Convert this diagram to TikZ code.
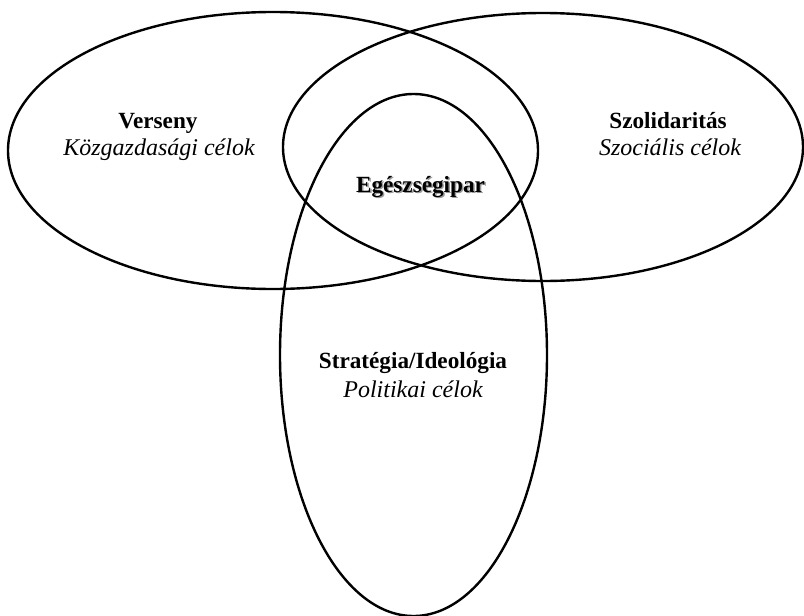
\documentclass[tikz,border=0pt]{standalone}
\usepackage{fontspec}
\setmainfont{Liberation Serif}
\begin{document}
\begin{tikzpicture}[x=1pt,y=-1pt,
  ring/.style={draw=black,line width=2.4pt},
  headtext/.style={font=\fontsize{23.2}{28}\selectfont\bfseries,inner sep=0pt,anchor=base},
  subtext/.style={font=\fontsize{24}{28}\selectfont\itshape,inner sep=0pt,anchor=base}]
\useasboundingbox (0,0) rectangle (804,616);
\coordinate (cl) at (273,150.5);
\coordinate (cr) at (543,147);
\coordinate (cb) at (413.5,355);
\draw[ring] (cl) ellipse [x radius=265, y radius=138.5];
\draw[ring] (cr) ellipse [x radius=260, y radius=134];
\draw[ring] (cb) ellipse [x radius=133.5, y radius=261];
\node[headtext] (verseny) at (158,128) {Verseny};
\node[subtext] (kozg) at (159,155) {Közgazdasági célok};
\node[headtext] (szol) at (668,128) {Szolidaritás};
\node[subtext] (szoc) at (670,155) {Szociális célok};
\node[headtext,text=black!40] (egshadow) at (422,193.5) {Egészségipar};
\node[headtext] (egesz) at (420.5,192) {Egészségipar};
\node[headtext] (strat) at (413,368) {Stratégia/Ideológia};
\node[subtext] (polit) at (413,397) {Politikai célok};
\end{tikzpicture}
\end{document}
